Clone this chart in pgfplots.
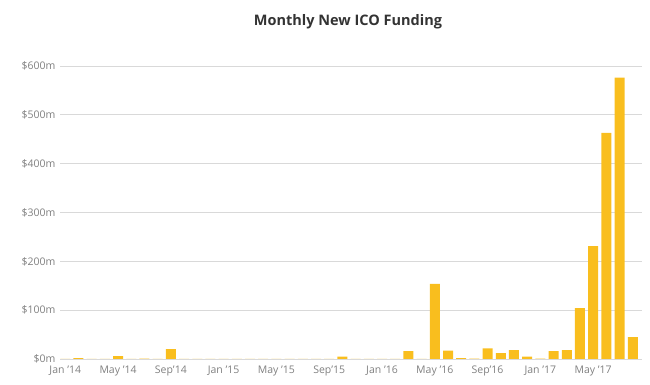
\documentclass[border=0pt]{standalone}
\usepackage{fontspec}
\setmainfont{Open Sans}
\usepackage{pgfplots}
\pgfplotsset{compat=1.18}
\definecolor{bargold}{RGB}{249,190,30}
\definecolor{gridgray}{RGB}{217,217,217}
\definecolor{ticktext}{RGB}{128,128,128}
\begin{document}
\begin{tikzpicture}
\useasboundingbox (-60pt,-26pt) rectangle (590pt,359pt);
\begin{axis}[
  at={(0pt,0pt)}, anchor=south west,
  scale only axis,
  width=582pt, height=293pt,
  xmin=-0.4, xmax=43.7,
  ymin=0, ymax=600,
  axis line style={draw=none},
  clip=false,
  ytick={0,100,200,300,400,500,600},
  yticklabels={\$0m,\$100m,\$200m,\$300m,\$400m,\$500m,\$600m},
  xtick={0,4,8,12,16,20,24,28,32,36,40},
  xticklabels={Jan '14,May '14,Sep'14,Jan '15,May '15,Sep'15,Jan '16,May '16,Sep'16,Jan '17,May '17},
  tick label style={font=\fontsize{10.5}{12}\selectfont, text=ticktext},
  yticklabel style={anchor=east, xshift=-1pt},
  xticklabel style={anchor=north, yshift=-3pt},
  ymajorgrids=true,
  grid style={gridgray, line width=0.7pt},
  major tick length=0pt,
  tick style={draw=none},
]
\addplot[ybar, bar width=10pt, bar shift=0pt, fill=bargold, draw=none] coordinates {
(0,0) (1,2) (2,0) (3,0.5) (4,6) (5,0.3) (6,1) (7,0) (8,20) (9,0)
(10,0) (11,0.3) (12,0.5) (13,0.5) (14,0.3) (15,0.5) (16,0.5) (17,0.3) (18,0) (19,0)
(20,0) (21,5) (22,0) (23,0.5) (24,0) (25,0.5) (26,16) (27,0.5) (28,154) (29,17)
(30,2) (31,1) (32,22) (33,12) (34,18) (35,5) (36,1) (37,16) (38,18) (39,104)
(40,231) (41,463) (42,576) (43,45)
};
\end{axis}
\node[font=\fontsize{14.5}{16}\selectfont\bfseries, text={rgb,255:red,51;green,51;blue,51}] at (288pt,337pt) {Monthly New ICO Funding};
\end{tikzpicture}
\end{document}
